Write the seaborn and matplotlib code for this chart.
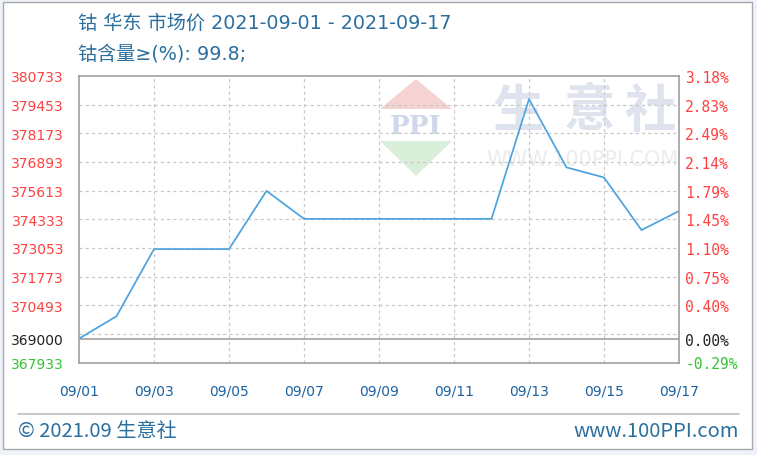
import numpy as np
import pandas as pd
import matplotlib
matplotlib.use("Agg")
import matplotlib.pyplot as plt
from matplotlib.patches import Polygon, Rectangle
import seaborn as sns

# Daily cobalt price, East China market (CNY/ton)
days = ["09/01", "09/02", "09/03", "09/04", "09/05", "09/06", "09/07", "09/08", "09/09",
        "09/10", "09/11", "09/12", "09/13", "09/14", "09/15", "09/16", "09/17"]
prices = [369000, 370000, 373000, 373000, 373000, 375600, 374350, 374350, 374350,
          374350, 374350, 374350, 379700, 376650, 376200, 373850, 374700]

base_price = 369000
y_min, y_max = 367933, 380733
y_step = 1280
left_ticks = [380733, 379453, 378173, 376893, 375613, 374333, 373053, 371773, 370493]

title_line1 = "钴 华东 市场价 2021-09-01 - 2021-09-17"
title_line2 = "钴含量≥(%): 99.8;"
footer_left = "© 2021.09 生意社"
footer_right = "www.100PPI.com"

sns.set_style("white")
plt.rcParams["font.family"] = ["Noto Sans CJK SC", "DejaVu Sans"]
latin_first = ["DejaVu Sans", "Noto Sans CJK SC"]

W, H = 757, 456
fig = plt.figure(figsize=(W / 100, H / 100), dpi=100)
fig.patch.set_facecolor("#eef3f9")

def fx(px):
    return px / W

def fy(py):
    return 1 - py / H

# white card with grey border
fig.patches.append(Rectangle((fx(3), fy(450)), fx(749), (447) / H, transform=fig.transFigure,
                             facecolor="white", edgecolor="#a9a9a9", linewidth=1.0, zorder=0))

# watermark: PPI logo and site name
red_tri = Polygon([(fx(380), fy(110)), (fx(452), fy(110)), (fx(416), fy(80))], closed=True,
                  transform=fig.transFigure, facecolor="#f6d3d3", edgecolor="none", zorder=0.5)
green_tri = Polygon([(fx(380), fy(142)), (fx(452), fy(142)), (fx(416), fy(177))], closed=True,
                    transform=fig.transFigure, facecolor="#d9efd9", edgecolor="none", zorder=0.5)
fig.patches.extend([red_tri, green_tri])
fig.text(fx(416), fy(127), "PPI", ha="center", va="center", fontsize=19, fontweight="bold",
         family=["DejaVu Serif"], color="#cfd7ea", zorder=0.6)
for ch, cx in zip("生意社", [518, 590, 650]):
    fig.text(fx(cx), fy(111), ch, ha="center", va="center", fontsize=37, fontweight="bold",
             color="#dfe3ed", zorder=0.6)
fig.text(fx(582), fy(160), "WWW.100PPI.COM", ha="center", va="center", fontsize=15,
         family=["DejaVu Sans"], color="#ececec", zorder=0.6)

# plotting area
ax = fig.add_axes([fx(79), fy(363.5), fx(600), (363.5 - 77) / H])
ax.set_zorder(1)
ax.patch.set_alpha(0)

x_idx = np.arange(len(days))
df = pd.DataFrame({"day": x_idx, "price": prices})
sns.lineplot(data=df, x="day", y="price", ax=ax, color="#4ca3de", linewidth=1.25)

ax.set_xlim(0, len(days) - 1)
ax.set_ylim(y_min, y_max)

# dashed grid
grid_kw = dict(color="#c8c8c8", linestyle=(0, (2.5, 2.5)), linewidth=0.9, zorder=0.5)
for k in range(1, 10):
    ax.axhline(y_min + k * y_step, **grid_kw)
for i in range(2, len(days) - 1, 2):
    ax.axvline(i, **grid_kw)
ax.axhline(base_price, color="#a0a0a0", linewidth=1.2, zorder=0.6)

for s in ax.spines.values():
    s.set_color("#a0a0a0")
    s.set_linewidth(1.2)

# left axis labels
yt = left_ticks + [base_price, y_min]
ax.set_yticks(yt)
ax.set_yticklabels([str(v) for v in yt], family=["DejaVu Sans"], fontsize=10)
for lab, v in zip(ax.get_yticklabels(), yt):
    lab.set_color("#222222" if v == base_price else ("#33c233" if v == y_min else "#ff4040"))
ax.tick_params(axis="y", length=0, pad=10.8)

ax.set_xticks(x_idx[::2])
ax.set_xticklabels(days[::2], family=["DejaVu Sans"], fontsize=10, color="#1d62a0")
ax.tick_params(axis="x", length=0, pad=15)
ax.set_xlabel("")
ax.set_ylabel("")

# right axis: change relative to the base price
ax2 = ax.twinx()
ax2.set_ylim(y_min, y_max)
ax2.set_yticks(yt)
ax2.set_yticklabels([f"{(v - base_price) / base_price * 100:.2f}%" for v in yt],
                    family=["DejaVu Sans Mono"], fontsize=10.5)
for lab, v in zip(ax2.get_yticklabels(), yt):
    lab.set_color("#222222" if v == base_price else ("#33c233" if v == y_min else "#ff4040"))
ax2.tick_params(axis="y", length=0, pad=4.5)
for s in ax2.spines.values():
    s.set_visible(False)

# titles
fig.text(fx(78), fy(23), title_line1, ha="left", va="center", fontsize=13.8,
         family=latin_first, color="#2b6f9f")
fig.text(fx(78), fy(53.5), title_line2, ha="left", va="center", fontsize=13.8,
         family=latin_first, color="#2b6f9f")

# footer
fig.lines.append(plt.Line2D([fx(18), fx(739)], [fy(415), fy(415)], transform=fig.transFigure,
                            color="#bdbdbd", linewidth=1.2))
fig.text(fx(18), fy(432), footer_left, ha="left", va="center", fontsize=14.5, color="#2b6f9f")
fig.text(fx(739), fy(432), footer_right, ha="right", va="center", fontsize=14.5, color="#2b6f9f")

fig.savefig("out.png", dpi=100)
